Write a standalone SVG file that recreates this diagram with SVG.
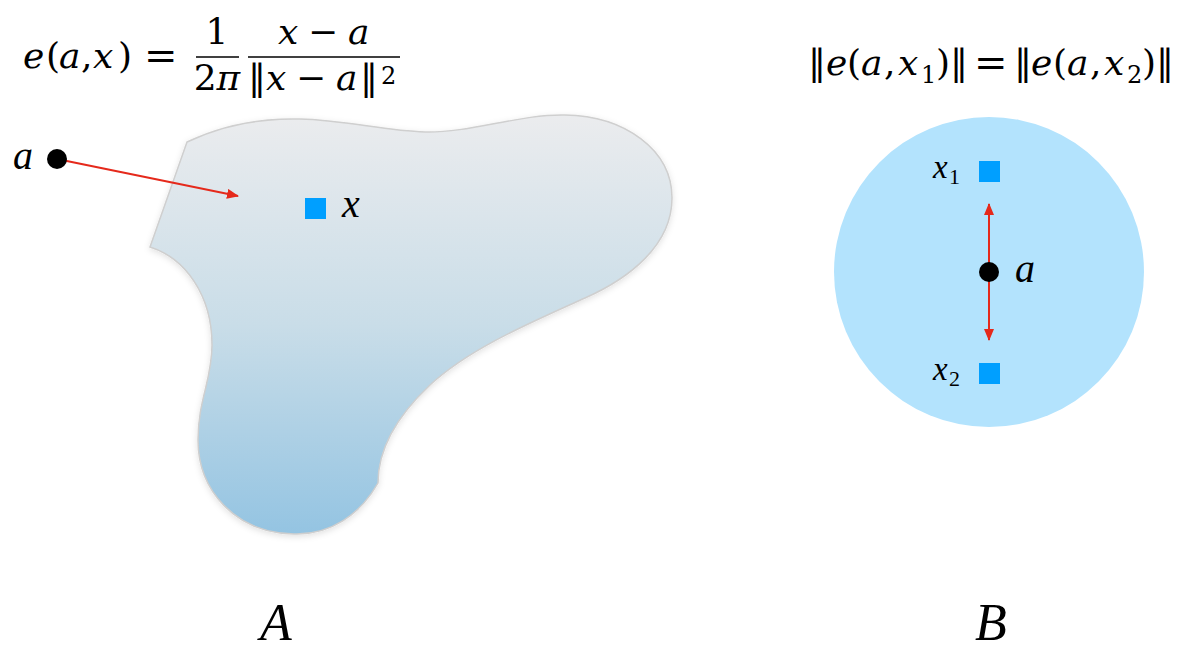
<svg xmlns="http://www.w3.org/2000/svg" width="1179" height="649" viewBox="0 0 1179 649">
<style>
.it{font-style:italic}
.up{font-style:normal}
.f{font-size:36px}
.sub{font-size:24px;font-style:normal}
.bar{stroke:#000;stroke-width:1.4}
.arr{stroke:#e5291b;stroke-width:2;fill:none}
.sq{fill:#009fff}
</style>
<defs>
<linearGradient id="gA" x1="0" y1="0" x2="0" y2="1">
<stop offset="0" stop-color="#ebecee"/>
<stop offset="0.5" stop-color="#c9dde8"/>
<stop offset="1" stop-color="#94c4e2"/>
</linearGradient>
<filter id="sh" x="-10%" y="-10%" width="120%" height="120%">
<feDropShadow dx="0" dy="2" stdDeviation="3" flood-color="#000" flood-opacity="0.12"/>
</filter>
<marker id="ah" viewBox="0 0 12 10" refX="11" refY="5" markerWidth="12" markerHeight="10" markerUnits="userSpaceOnUse" orient="auto">
<path d="M0,0 L12,5 L0,10 Z" fill="#e5291b"/>
</marker>
</defs>
<rect width="1179" height="649" fill="#fff"/>

<g font-family="DejaVu Serif, serif" fill="#000">
<g id="formulaA" class="f">
<text y="68"><tspan class="it" x="23">e</tspan><tspan class="up" x="46">(</tspan><tspan class="it" x="59">a</tspan><tspan class="up" x="81">,</tspan><tspan class="it" x="93">x</tspan><tspan class="up" x="118">)</tspan></text>
<text x="144" y="69" style="font-size:40px">=</text>
<text x="217" y="44" text-anchor="middle">1</text>
<line class="bar" x1="196" y1="57" x2="239" y2="57"/>
<text x="217" y="90" text-anchor="middle">2<tspan class="it">π</tspan></text>
<text y="44"><tspan class="it" x="278">x</tspan><tspan class="up" x="308">−</tspan><tspan class="it" x="348">a</tspan></text>
<line class="bar" x1="248" y1="57" x2="400" y2="57"/>
<text y="90"><tspan class="up" x="248">‖</tspan><tspan class="it" x="266">x</tspan><tspan class="up" x="296">−</tspan><tspan class="it" x="336">a</tspan><tspan class="up" x="360">‖</tspan></text>
<text x="381" y="84" style="font-size:24px">2</text>
</g>

<g id="formulaB" class="f">
<text y="75"><tspan class="up" x="808">‖</tspan><tspan class="it" x="826">e</tspan><tspan class="up" x="847">(</tspan><tspan class="it" x="861">a</tspan><tspan class="up" x="884">,</tspan><tspan class="it" x="898">x</tspan></text>
<text x="921" y="83" class="sub">1</text>
<text y="75"><tspan class="up" x="936">)</tspan><tspan class="up" x="950">‖</tspan></text>
<text x="974" y="76" style="font-size:40px">=</text>
<text y="75"><tspan class="up" x="1014">‖</tspan><tspan class="it" x="1031">e</tspan><tspan class="up" x="1053">(</tspan><tspan class="it" x="1067">a</tspan><tspan class="up" x="1090">,</tspan><tspan class="it" x="1104">x</tspan></text>
<text x="1127" y="83" class="sub">2</text>
<text y="75"><tspan class="up" x="1142">)</tspan><tspan class="up" x="1156">‖</tspan></text>
</g>
</g>

<g id="regionA">
<path d="M187,142 C225,124 262,118 300,119 C345,120 385,131 425,132 C470,133 520,114 565,115 C625,116 672,150 672,198 C672,245 630,278 585,298 C530,323 470,348 430,385 C395,418 378,450 378,483 C360,515 330,535 294,534 C235,533 198,490 198,440 C198,400 212,380 212,345 C212,295 185,258 150,247 L187,142 Z" fill="url(#gA)" stroke="#cfcfcf" stroke-width="1.5" filter="url(#sh)"/>
</g>

<g id="circleB">
<circle cx="989" cy="272" r="155" fill="#b3e3fd"/>
</g>

<g id="connectors">
<line class="arr" x1="57" y1="159" x2="238" y2="196" marker-end="url(#ah)"/>
<line class="arr" x1="989" y1="272" x2="989" y2="204" marker-end="url(#ah)"/>
<line class="arr" x1="989" y1="272" x2="989" y2="340" marker-end="url(#ah)"/>
</g>

<g font-family="Liberation Serif, serif" fill="#000">
<g id="pointA">
<circle cx="57" cy="159" r="10" fill="#000"/>
<text x="13" y="169" class="it" style="font-size:40px">a</text>
</g>

<g id="pointX">
<rect class="sq" x="305" y="198" width="21" height="21"/>
<text x="342" y="217" class="it" style="font-size:40px">x</text>
</g>

<g id="pointX1">
<rect class="sq" x="979" y="161" width="21" height="21"/>
<text x="933" y="178" class="it" style="font-size:33px">x</text>
<text x="949" y="184" style="font-size:22px">1</text>
</g>

<g id="pointX2">
<rect class="sq" x="979" y="363" width="21" height="21"/>
<text x="933" y="380" class="it" style="font-size:33px">x</text>
<text x="949" y="386" style="font-size:22px">2</text>
</g>

<g id="pointAB">
<circle cx="989" cy="272" r="10" fill="#000"/>
<text x="1015" y="282" class="it" style="font-size:40px">a</text>
</g>

<g id="labels">
<text x="276" y="640" text-anchor="middle" class="it" style="font-size:52px">A</text>
<text x="991" y="640" text-anchor="middle" class="it" style="font-size:52px">B</text>
</g>
</g>
</svg>
